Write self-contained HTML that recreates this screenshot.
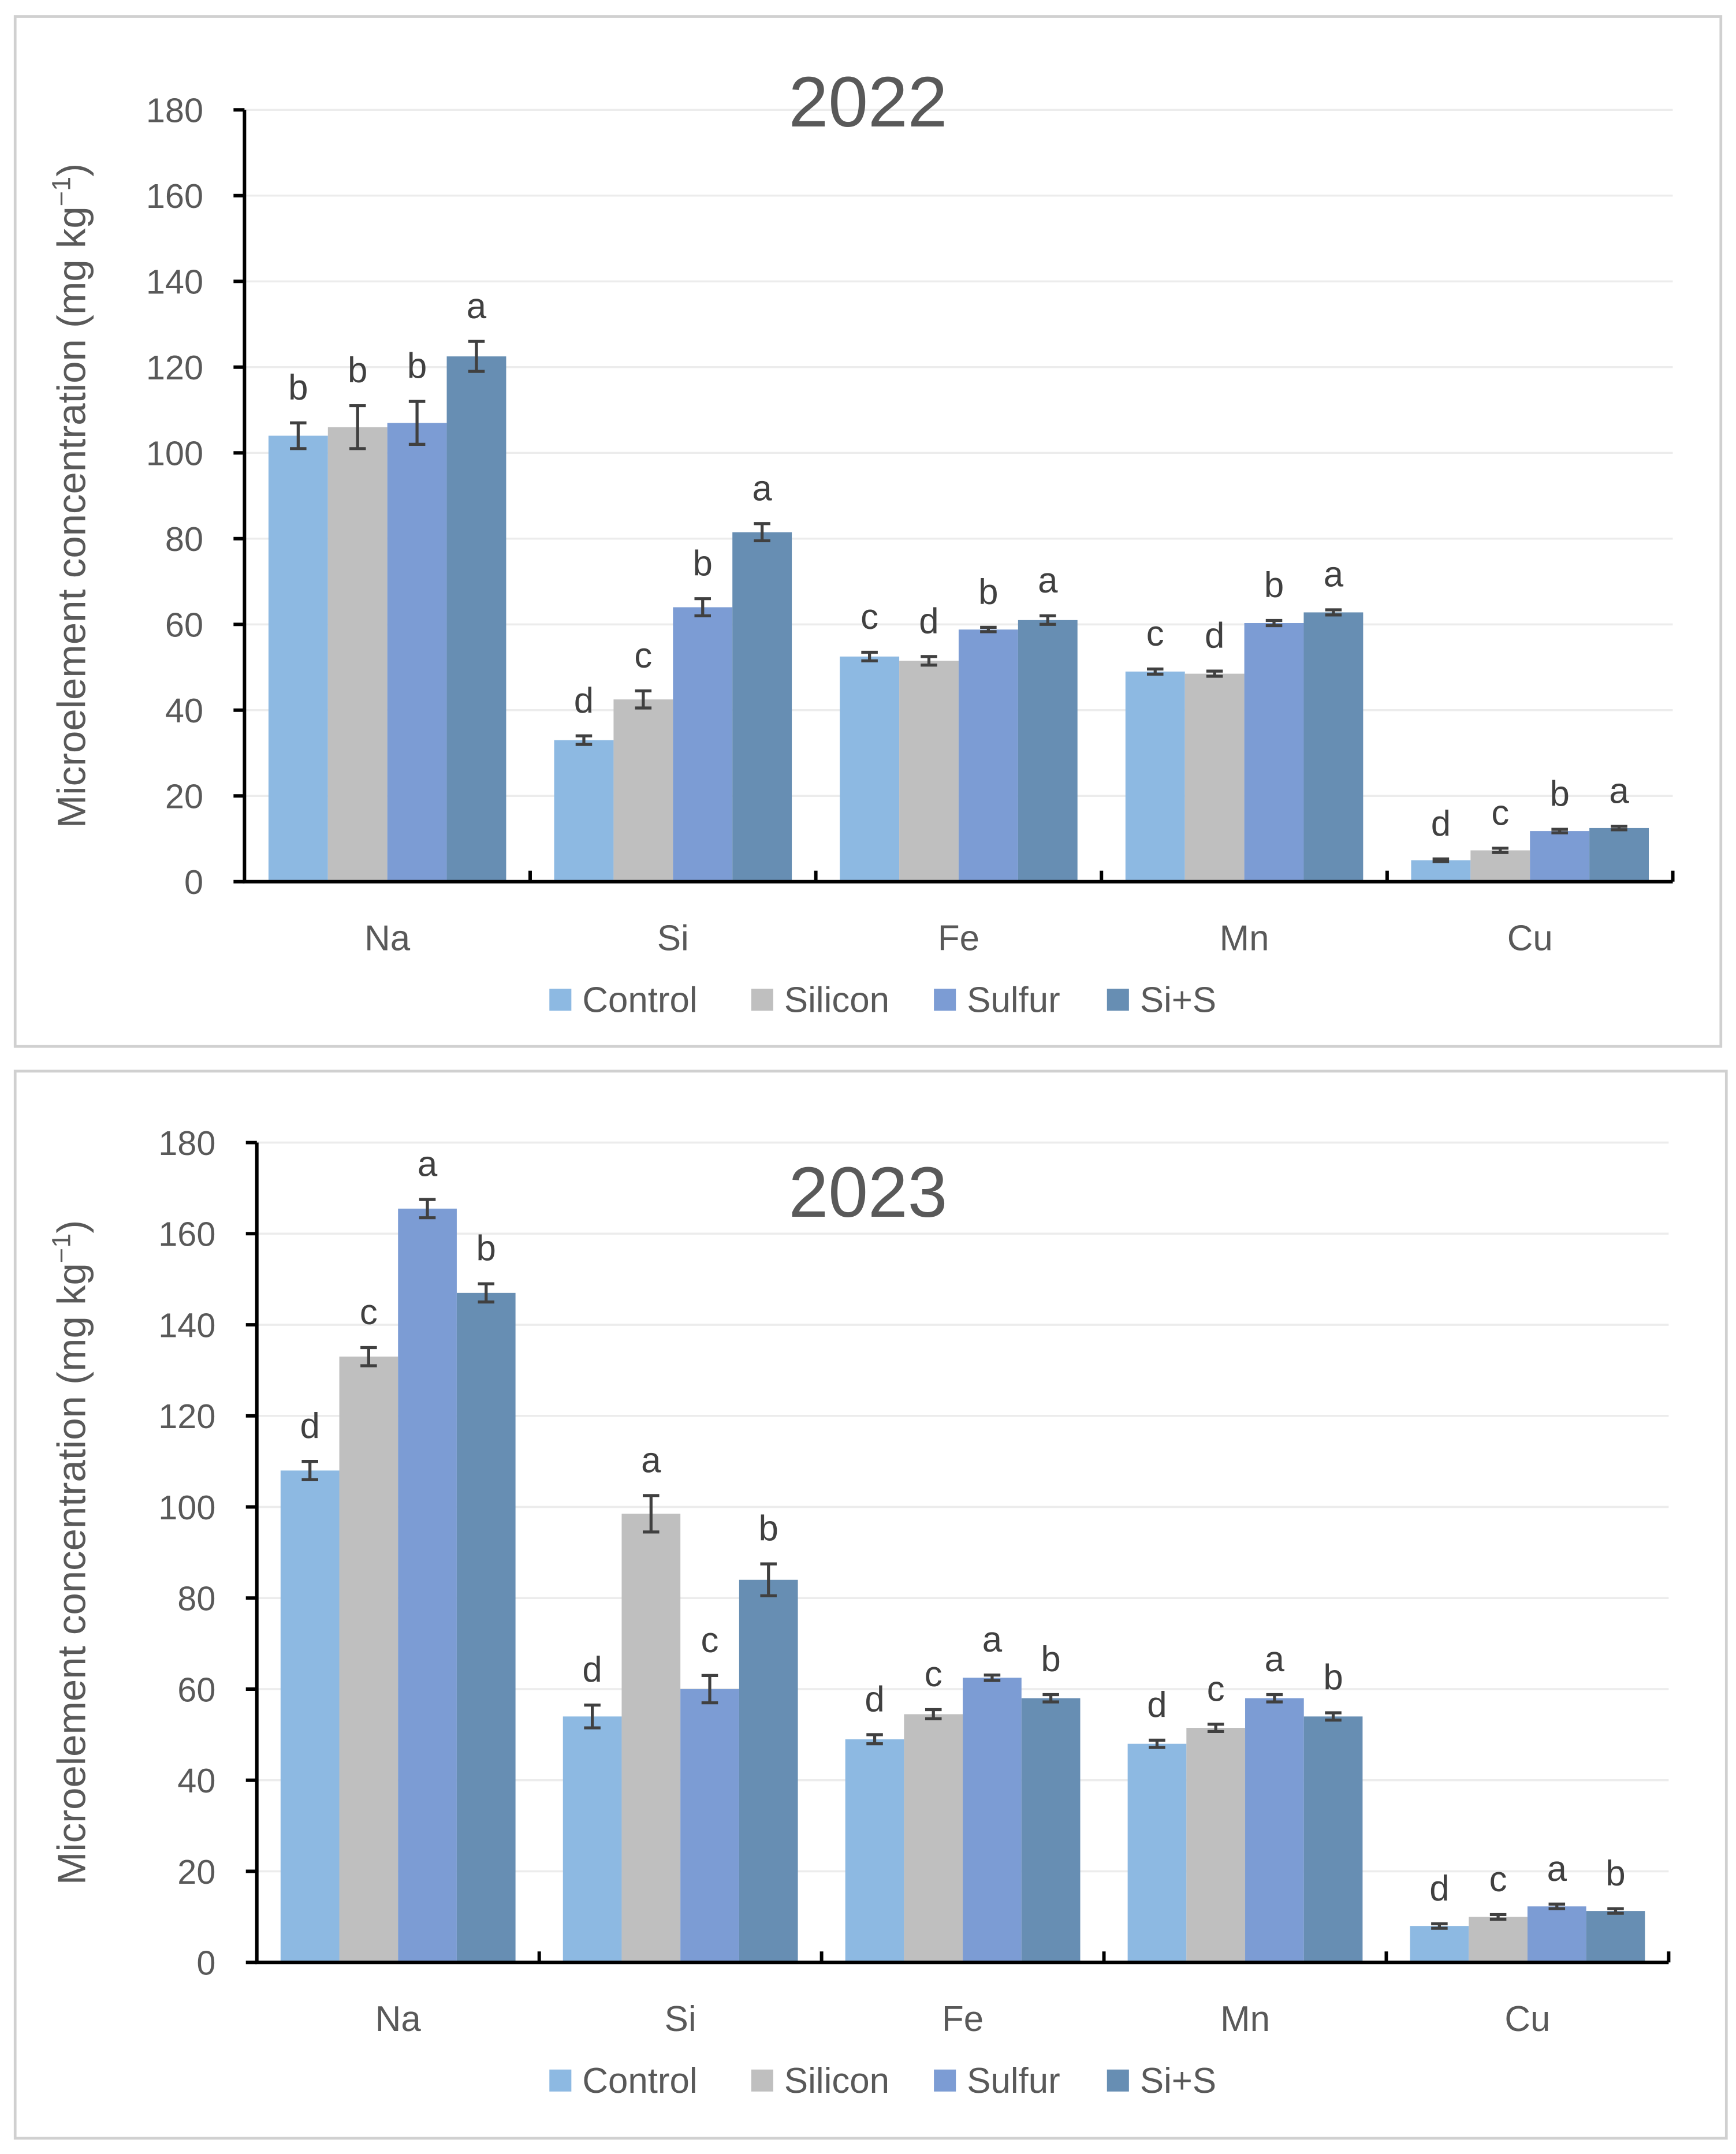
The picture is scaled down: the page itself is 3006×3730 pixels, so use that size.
<!DOCTYPE html>
<html><head><meta charset="utf-8">
<style>
html,body{margin:0;padding:0;background:#fff;}
svg{display:block;font-family:"Liberation Sans",sans-serif;}
</style></head>
<body>
<svg id="fig" width="3006" height="3730" viewBox="0 0 1264 1568.5" xmlns="http://www.w3.org/2000/svg">
<rect x="11" y="12" width="1242" height="750" fill="#fff" stroke="#d0d0d0" stroke-width="2"/>
<rect x="11" y="780" width="1246" height="777" fill="#fff" stroke="#d0d0d0" stroke-width="2"/>
</svg>
<script>
const categories=["Na","Si","Fe","Mn","Cu"];
const seriesNames=["Control","Silicon","Sulfur","Si+S"];
const colors=["#8db9e2","#bfbfbf","#7c9cd4","#678eb3"];
const yTicks=[0,20,40,60,80,100,120,140,160,180];
// 2022
const v22Control=[104,33,52.5,49,5];
const v22Silicon=[106,42.5,51.5,48.5,7.3];
const v22Sulfur=[107,64,58.8,60.3,11.8];
const v22SiS=[122.5,81.5,61,62.8,12.5];
const e22Control=[3,1,1,0.6,0.3];
const e22Silicon=[5,2,1,0.6,0.5];
const e22Sulfur=[5,2,0.5,0.6,0.4];
const e22SiS=[3.5,2,1,0.6,0.4];
const l22Control=["b","d","c","c","d"];
const l22Silicon=["b","c","d","d","c"];
const l22Sulfur=["b","b","b","b","b"];
const l22SiS=["a","a","a","a","a"];
// 2023
const v23Control=[108,54,49,48,8];
const v23Silicon=[133,98.5,54.5,51.5,10];
const v23Sulfur=[165.5,60,62.5,58,12.3];
const v23SiS=[147,84,58,54,11.3];
const e23Control=[2,2.5,1,0.8,0.5];
const e23Silicon=[2,4,1,0.8,0.5];
const e23Sulfur=[2,3,0.6,0.8,0.5];
const e23SiS=[2,3.5,0.8,0.8,0.5];
const l23Control=["d","d","d","d","d"];
const l23Silicon=["c","a","c","c","c"];
const l23Sulfur=["a","c","a","a","a"];
const l23SiS=["b","b","b","b","b"];

const NS="http://www.w3.org/2000/svg";
const svg=document.getElementById("fig");
function mk(tag,attrs,parent){const e=document.createElementNS(NS,tag);for(const k in attrs)e.setAttribute(k,attrs[k]);(parent||svg).appendChild(e);return e;}

function chart(cfg){
  const g=mk("g",{});
  
  
  const y=v=>cfg.y0-(v/180)*(cfg.y0-cfg.y180);
  const gw=(cfg.x1-cfg.x0)/categories.length;
  const bw=gw*0.208;
  const xc=i=>cfg.x0+gw*(i+0.5);
  yTicks.forEach(t=>{
    if(t>0){const gl=mk("line",{x1:cfg.x0,x2:cfg.x1,y1:y(t),y2:y(t),stroke:"#ececec","stroke-width":1.5},g);
      
      }
    const tk=mk("line",{x1:cfg.x0-8,x2:cfg.x0,y1:y(t),y2:y(t),stroke:"#000","stroke-width":2.5},g);
    
    
    const tl=mk("text",{x:cfg.x0-30,y:y(t)+9,"text-anchor":"end","font-size":25,fill:"#595959"},g);
    tl.textContent=t;
    
    
  });
  cfg.vals.forEach((vals,s)=>{
    vals.forEach((v,i)=>{
      const bx=xc(i)-2*bw+s*bw;
      const r=mk("rect",{x:bx,y:y(v),width:bw,height:y(0)-y(v),fill:colors[s]},g);
      
      
      const e=cfg.errs[s][i],cx=bx+bw/2;
      const eb=mk("path",{d:`M${cx-6},${y(v+e)}H${cx+6}M${cx},${y(v+e)}V${y(v-e)}M${cx-6},${y(v-e)}H${cx+6}`,stroke:"#404040","stroke-width":2.2,fill:"none"},g);
      
      
      const lt=mk("text",{x:cx,y:y(v+e)-17,"text-anchor":"middle","font-size":26,fill:"#404040"},g);
      lt.textContent=cfg.lets[s][i];
      
      
    });
  });
  for(let i=1;i<=categories.length;i++){
    const tk=mk("line",{x1:cfg.x0+gw*i,x2:cfg.x0+gw*i,y1:y(0),y2:y(0)-8,stroke:"#000","stroke-width":2.5},g);
    
    
  }
  const ax=mk("path",{d:`M${cfg.x0},${cfg.y180}V${y(0)}H${cfg.x1}`,stroke:"#000","stroke-width":2.5,fill:"none"},g);
  
  
  categories.forEach((c,i)=>{
    const t=mk("text",{x:xc(i),y:y(0)+50,"text-anchor":"middle","font-size":26,fill:"#595959"},g);
    t.textContent=c;
    
    
  });
  const tt=mk("text",{x:632,y:cfg.titleY,"text-anchor":"middle","font-size":52,fill:"#595959"},g);
  tt.textContent=cfg.title;
  
  
  const cy=(cfg.y0+cfg.y180)/2;
  const yt=mk("text",{x:0,y:0,transform:`translate(62,${cy}) rotate(-90)`,"text-anchor":"middle","font-size":29,fill:"#595959"},g);
  yt.innerHTML='Microelement concentration (mg kg<tspan dy="-11" font-size="19">−1</tspan><tspan dy="11">)</tspan>';
  
  
  const lx=[400,547,680,806];
  seriesNames.forEach((n,s)=>{
    const sq=mk("rect",{x:lx[s],y:cfg.legY-17,width:16,height:16,fill:colors[s]},g);
    
    
    const lt=mk("text",{x:lx[s]+24,y:cfg.legY,"font-size":26,fill:"#595959"},g);
    lt.textContent=n;
    
    
  });
}
chart({title:"2022",x0:178,x1:1218,y0:642,y180:80,titleY:92,legY:737,
  vals:[v22Control,v22Silicon,v22Sulfur,v22SiS],errs:[e22Control,e22Silicon,e22Sulfur,e22SiS],lets:[l22Control,l22Silicon,l22Sulfur,l22SiS]});
chart({title:"2023",x0:187,x1:1215,y0:1429,y180:832,titleY:886,legY:1524,
  vals:[v23Control,v23Silicon,v23Sulfur,v23SiS],errs:[e23Control,e23Silicon,e23Sulfur,e23SiS],lets:[l23Control,l23Silicon,l23Sulfur,l23SiS]});
</script>
</body></html>
